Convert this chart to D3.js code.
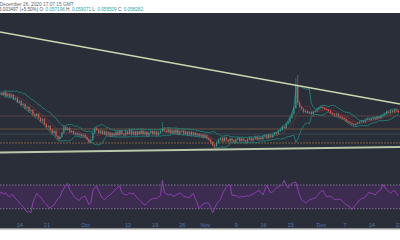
<!DOCTYPE html>
<html>
<head>
<meta charset="UTF-8">
<script src="https://d3js.org/d3.v7.min.js"></script>
<style>
  body { margin: 0; background: #fff; }
  svg { display: block; font-family: "Liberation Sans", Arial, sans-serif; }
</style>
</head>
<body>
<svg width="400" height="240"></svg>
<script>
// 12h candles starting Sep 9 2020 (price in 1e-4 units)
const startDate = new Date(2020, 8, 9);
const stepHours = 12;

const opens = [
545,550,540,555,535,545,530,540,520,525, 505,510,490,495,475,480,460,465,445,435,
445,425,410,420,395,380,385,365,350,360, 335,320,330,350,380,365,375,355,360,345,
350,340,345,335,340,330,320,305,315,350, 375,365,350,362,345,358,340,352,336,348,
338,355,340,360,345,338,358,345,365,342, 358,340,358,345,362,344,356,338,352,360,
345,358,340,352,360,372,362,355,368,350, 362,350,365,345,358,362,345,357,342,356,
340,352,338,345,335,342,330,338,325,318, 305,290,285,302,318,325,310,328,315,308,
322,312,305,318,325,310,322,312,305,318, 326,312,322,330,318,328,320,332,338,325,
340,330,340,350,345,360,365,380,375,395, 405,425,445,475,590,500,480,470,455,460,
450,455,445,455,460,470,475,480,475,470, 465,460,450,445,440,445,435,430,425,420,
410,405,400,395,390,395,400,405,410,405, 415,420,415,420,425,420,430,425,435,440,
445,455,450,460,455,465,460];
const closes = [
550,540,555,535,545,530,540,520,525,505, 510,490,495,475,480,460,465,445,435,445,
425,410,420,395,380,385,365,350,360,335, 320,330,350,380,365,375,355,360,345,350,
340,345,335,340,330,320,305,315,350,375, 365,350,362,345,358,340,352,336,348,338,
355,340,360,345,338,358,345,365,342,358, 340,358,345,362,344,356,338,352,360,345,
358,340,352,360,372,362,355,368,350,362, 350,365,345,358,362,345,357,342,356,340,
352,338,345,335,342,330,338,325,318,305, 290,285,302,318,325,310,328,315,308,322,
312,305,318,325,310,322,312,305,318,326, 312,322,330,318,328,320,332,338,325,340,
330,340,350,345,360,365,380,375,395,405, 425,445,475,590,500,480,470,455,460,450,
455,445,455,460,470,475,480,475,470,465, 460,450,445,440,445,435,430,425,420,410,
405,400,395,390,395,400,405,410,405,415, 420,415,420,425,420,430,425,435,440,445,
455,450,460,455,465,460,455];
const highs = [
558,560,562,562,552,553,548,546,532,531, 517,516,503,500,487,486,472,471,452,451,
450,431,427,424,401,392,390,371,366,364, 340,336,357,388,386,381,380,366,364,356,
355,351,350,346,345,335,326,321,356,382, 381,370,368,367,364,362,358,357,354,353,
361,360,366,364,350,364,362,371,369,364, 363,364,362,368,366,362,360,358,366,364,
364,362,358,366,405,378,367,374,372,368, 367,371,369,364,368,366,363,361,362,360,
358,356,351,349,348,346,344,342,330,323, 310,295,308,324,331,330,334,332,320,328,
326,317,324,331,329,328,326,317,324,332, 330,328,336,334,334,332,338,344,342,346,
345,346,356,355,366,372,388,386,402,413, 433,455,485,625,640,512,488,476,468,466,
462,460,461,466,477,482,488,486,481,476, 470,466,456,450,451,450,440,436,430,426,
416,410,406,400,401,406,411,416,415,421, 426,425,426,431,430,436,435,441,446,451,
462,461,467,466,472,471,466];
const lows = [
539,534,535,529,530,524,525,514,515,499, 500,484,485,469,470,454,455,439,429,430,
419,404,405,389,374,375,359,344,345,329, 313,314,325,345,359,360,349,350,339,340,
334,335,329,330,324,314,298,300,310,345, 359,344,344,339,339,334,334,330,330,332,
332,334,334,339,332,332,339,339,336,336, 334,334,339,339,338,338,332,332,346,339,
339,334,334,346,354,356,349,349,344,344, 344,344,339,339,352,339,339,336,336,334,
334,332,332,329,329,324,324,319,312,298, 283,275,279,296,312,304,304,309,302,302,
306,299,299,312,304,304,306,299,299,312, 306,306,316,312,312,314,314,326,319,319,
324,325,335,339,340,355,360,369,370,390, 400,420,440,470,490,472,462,448,449,444,
444,439,440,450,455,465,470,469,464,459, 454,444,439,434,435,429,424,419,414,404,
399,394,389,384,385,390,395,400,399,400, 410,409,410,415,414,415,419,420,430,435,
440,444,445,449,450,454,449];

// RSI(14) per candle
const rsi = [
56,58,54,57,52,50,54,52,47,44, 40,37,33,28,24,26,23,40,48,56,
52,50,45,40,37,33,31,35,36,42, 47,50,58,64,70,73,62,58,52,48,
46,44,48,50,51,44,37,40,60,66, 68,60,53,48,45,49,52,53,57,60,
63,66,68,57,55,53,54,57,55,56, 52,48,45,42,38,36,40,43,46,47,
48,47,50,52,78,57,55,53,55,52, 51,53,55,57,54,51,50,49,48,53,
56,47,40,30,34,38,39,40,39,32, 23,30,38,42,46,54,61,66,70,70,
52,53,52,50,49,51,50,51,52,51, 54,55,57,59,61,57,53,62,70,63,
57,58,62,65,67,69,71,78,70,65, 69,73,74,75,62,52,45,42,40,42,
45,46,47,48,52,56,59,61,55,50, 51,51,48,45,46,46,46,43,40,37,
35,33,28,33,37,41,45,47,48,50, 54,58,56,55,53,57,60,62,71,66,
62,59,56,59,61,56,52];

// horizontal levels and trend lines
const levelPrices = [435, 370, 345, 300];
const levelColors = ["#6a4848", "#7a5a40", "#3c4c5c", "#8a6a3a"];
const upperTrend = [[new Date(2020, 8, 9), 855], [new Date(2020, 11, 21, 10, 30), 495]];
const lowerTrend = [[new Date(2020, 8, 9), 252], [new Date(2020, 11, 21, 10, 30), 280]];

const tickDates = [
  new Date(2020, 8, 14), new Date(2020, 8, 21), new Date(2020, 9, 1), new Date(2020, 9, 12),
  new Date(2020, 9, 19), new Date(2020, 9, 26), new Date(2020, 10, 1), new Date(2020, 10, 9),
  new Date(2020, 10, 16), new Date(2020, 10, 23), new Date(2020, 11, 1), new Date(2020, 11, 7),
  new Date(2020, 11, 14), new Date(2020, 11, 21)];
const tickLabels = ["14", "21", "Oct", "12", "19", "26", "Nov", "9", "16", "23", "Dec", "7", "14", "21"];

const candles = closes.map((c, i) => ({
  date: d3.timeHour.offset(startDate, i * stepHours),
  o: opens[i], h: highs[i], l: lows[i], c: c, rsi: rsi[i]
}));

// bollinger bands on closes
const period = 8;
candles.forEach((d, i) => {
  if (i < 2) return;
  const win = closes.slice(Math.max(0, i - period + 1), i + 1);
  const m = d3.mean(win);
  const sd = Math.sqrt(d3.mean(win, v => (v - m) * (v - m)));
  d.mid = m; d.up = m + 2 * sd; d.dn = m - 2 * sd;
});

const svg = d3.select("svg");
const W = 400;

const x = d3.scaleTime()
  .domain([new Date(2020, 8, 9), new Date(2020, 11, 21, 10, 30)])
  .range([0, W]);
const y = d3.scaleLinear().domain([200, 950]).range([163, 13]);
const yR = d3.scaleLinear().domain([0, 100]).range([226.5, 167.2]);

// header + background
svg.append("rect").attr("width", W).attr("height", 240).attr("fill", "#fff");
svg.append("rect").attr("y", 13).attr("width", W).attr("height", 215.5).attr("fill", "#2a2e39");
svg.append("line").attr("x1", 0).attr("x2", W).attr("y1", 229).attr("y2", 229)
  .attr("stroke", "#9a9a9a").attr("stroke-width", 1.2);

svg.append("text").attr("x", -22).attr("y", 5.5)
  .attr("font-size", 4.8).attr("fill", "#666")
  .text("Saturday, December 26, 2020 17:07:15 GMT");

const info = svg.append("text").attr("x", -1).attr("y", 10.5)
  .attr("font-size", 4.6).attr("fill", "#555");
info.append("tspan").text("5.003497 (+5.50%) O: ");
info.append("tspan").attr("fill", "#26a69a").text("0.057196 ");
info.append("tspan").text("H: ");
info.append("tspan").attr("fill", "#26a69a").text("0.059071 ");
info.append("tspan").text("L: ");
info.append("tspan").attr("fill", "#26a69a").text("0.055509 ");
info.append("tspan").text("C: ");
info.append("tspan").attr("fill", "#26a69a").text("0.058282");

const main = svg.append("g");

// horizontal levels
main.selectAll(".level")
  .data(levelPrices)
  .enter()
  .append("line")
  .attr("x1", 0).attr("x2", W)
  .attr("y1", d => y(d)).attr("y2", d => y(d))
  .attr("stroke", (d, i) => levelColors[i])
  .attr("stroke-width", 0.8)
  .attr("stroke-dasharray", (d, i) => i === 3 ? "2,1" : null);

// bands
const bandData = candles.filter(d => d.mid !== undefined);
const bandLine = key => d3.line().x(d => x(d.date)).y(d => y(d[key]));
main.append("path").datum(bandData).attr("d", bandLine("up"))
  .attr("fill", "none").attr("stroke", "#1f8278").attr("stroke-width", 0.9);
main.append("path").datum(bandData).attr("d", bandLine("dn"))
  .attr("fill", "none").attr("stroke", "#1f8278").attr("stroke-width", 0.9);
main.append("path").datum(bandData).attr("d", bandLine("mid"))
  .attr("fill", "none").attr("stroke", "#7a3434").attr("stroke-width", 0.8);

// candles
const bw = 1.2;
const cg = main.selectAll(".candle")
  .data(candles)
  .enter()
  .append("g")
  .attr("class", "candle");
cg.append("line")
  .attr("x1", d => x(d.date)).attr("x2", d => x(d.date))
  .attr("y1", d => y(d.h)).attr("y2", d => y(d.l))
  .attr("stroke", d => d.c >= d.o ? "#2a9d8f" : "#d9534f")
  .attr("stroke-width", 0.6);
cg.append("rect")
  .attr("x", d => x(d.date) - bw / 2)
  .attr("width", bw)
  .attr("y", d => y(Math.max(d.o, d.c)))
  .attr("height", d => Math.max(0.6, Math.abs(y(d.o) - y(d.c))))
  .attr("fill", d => d.c >= d.o ? "#2a9d8f" : "#d9534f");

// trend lines
const tl = d3.line().x(d => x(d[0])).y(d => y(d[1]));
main.append("path").datum(upperTrend).attr("d", tl)
  .attr("fill", "none").attr("stroke", "#c9d9b0").attr("stroke-width", 1.3);
main.append("path").datum(lowerTrend).attr("d", tl)
  .attr("fill", "none").attr("stroke", "#b8c8a8").attr("stroke-width", 2);

// RSI pane
const rsiG = svg.append("g");
rsiG.append("rect")
  .attr("x", 0).attr("width", W)
  .attr("y", yR(70)).attr("height", yR(30) - yR(70))
  .attr("fill", "#3c2c50");
rsiG.selectAll(".rsilvl")
  .data([70, 30])
  .enter()
  .append("line")
  .attr("x1", 0).attr("x2", W)
  .attr("y1", d => yR(d)).attr("y2", d => yR(d))
  .attr("stroke", "#8a8a9a").attr("stroke-width", 0.8)
  .attr("stroke-dasharray", "1.5,1.5");
rsiG.append("path").datum(candles)
  .attr("d", d3.line().x(d => x(d.date)).y(d => yR(d.rsi)))
  .attr("fill", "none").attr("stroke", "#8e3fb0").attr("stroke-width", 1);

// time axis
const ax = svg.append("g")
  .attr("transform", "translate(0,222)")
  .call(d3.axisBottom(x).tickValues(tickDates).tickFormat((d, i) => tickLabels[i]).tickSize(0));
ax.select(".domain").remove();
ax.selectAll("text")
  .attr("fill", "#4a78b0")
  .attr("font-size", 5.5)
  .attr("dy", "0.3em");
</script>
</body>
</html>
